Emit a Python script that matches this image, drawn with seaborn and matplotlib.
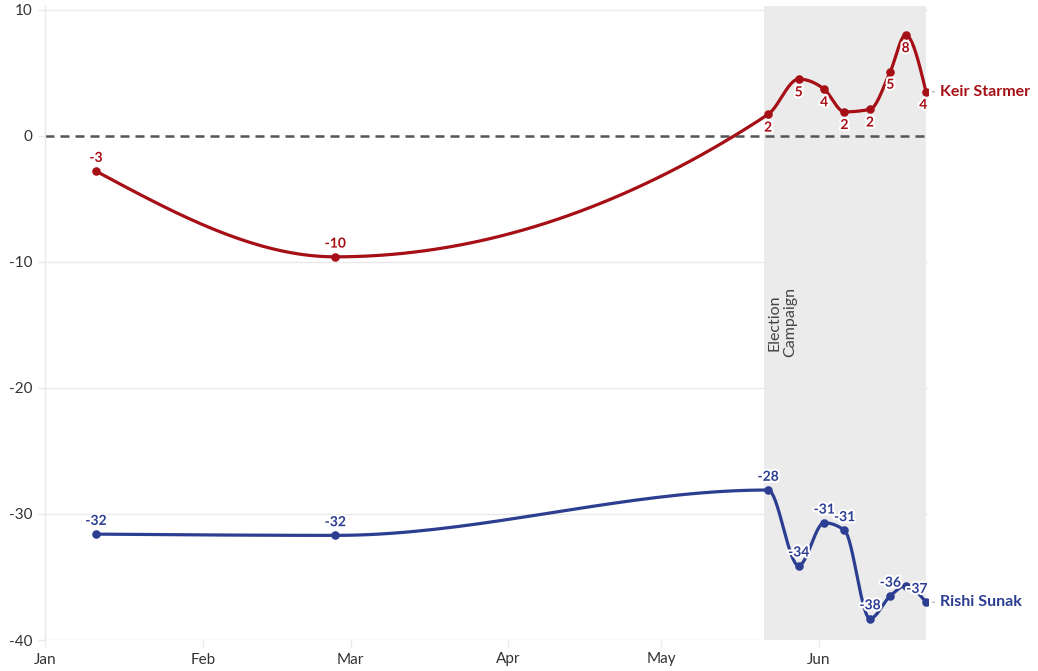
"""Net favourability of Keir Starmer and Rishi Sunak, Jan - Jun 2024."""

import matplotlib
matplotlib.use("Agg")

import matplotlib.dates as mdates
import matplotlib.patheffects as pe
import matplotlib.pyplot as plt
import numpy as np
import pandas as pd
import seaborn as sns


POLL_DATES = [
    "2024-01-11", "2024-02-27", "2024-05-22", "2024-05-28", "2024-06-02",
    "2024-06-06", "2024-06-11", "2024-06-15", "2024-06-18", "2024-06-22",
]
STARMER = [-2.8, -9.6, 1.7, 4.5, 3.7, 1.9, 2.1, 5.1, 8.0, 3.5]
SUNAK = [-31.6, -31.7, -28.1, -34.1, -30.7, -31.3, -38.3, -36.5, -35.7, -37.0]

CAMPAIGN_START = "2024-05-21 06:00"
CAMPAIGN_LABEL = "Election\nCampaign"
MONTHS = ["Jan", "Feb", "Mar", "Apr", "May", "Jun"]
Y_TICKS = [10, 0, -10, -20, -30, -40]

RED = "#a50f15"
BLUE = "#2c3e91"
GRID = "#e9e9e9"
TEXT = "#333333"


def monotone_curve(x: np.ndarray, y: np.ndarray, n: int = 40):
    """Monotone cubic (same idea as d3.curveMonotoneX)."""
    h = np.diff(x)
    s = np.diff(y) / h
    t = np.zeros_like(y)
    for i in range(1, len(x) - 1):
        s0, s1 = s[i - 1], s[i]
        p = (s0 * h[i] + s1 * h[i - 1]) / (h[i - 1] + h[i])
        t[i] = (np.sign(s0) + np.sign(s1)) * min(abs(s0), abs(s1), 0.5 * abs(p))
    t[0] = (3 * s[0] - t[1]) / 2
    t[-1] = (3 * s[-1] - t[-2]) / 2
    xs, ys = [], []
    for i in range(len(x) - 1):
        u = np.linspace(0, 1, n)
        h00 = 2 * u**3 - 3 * u**2 + 1
        h10 = u**3 - 2 * u**2 + u
        h01 = -2 * u**3 + 3 * u**2
        h11 = u**3 - u**2
        xs.append(x[i] + u * h[i])
        ys.append(h00 * y[i] + h10 * h[i] * t[i] + h01 * y[i + 1] + h11 * h[i] * t[i + 1])
    return np.concatenate(xs), np.concatenate(ys)


def label(v: float) -> str:
    return str(int(np.floor(v + 0.5)))


def draw_series(ax, dates, values, name, color, campaign_start, below_in_campaign):
    num = mdates.date2num(dates)
    vals = np.asarray(values, dtype=float)
    cx, cy = monotone_curve(num, vals)
    curve = pd.DataFrame({"date": mdates.num2date(cx), "value": cy})
    pts = pd.DataFrame({"date": dates, "value": vals})

    sns.lineplot(data=curve, x="date", y="value", color=color, lw=2.3,
                 ax=ax, zorder=3, estimator=None, sort=False)
    sns.scatterplot(data=pts, x="date", y="value", color=color, s=38,
                    edgecolor=color, linewidth=0, ax=ax, zorder=4)

    halo = [pe.withStroke(linewidth=3, foreground="white")]
    prev_text, prev_x = None, None
    for i, (d, v) in enumerate(zip(num, vals)):
        txt = label(v)
        if prev_text == txt and d - prev_x < 4:
            prev_text, prev_x = txt, d
            continue
        prev_text, prev_x = txt, d
        below = below_in_campaign and d >= campaign_start
        dy = -9.5 if below else 9.5
        last = i == len(num) - 1
        ax.annotate(txt, (d, v), xytext=(1 if last else 0, dy),
                    textcoords="offset points",
                    ha="right" if last else "center", va="center",
                    fontsize=10, fontweight="bold", color=color,
                    path_effects=halo, zorder=5)

    ax.annotate(name, (num[-1], vals[-1]), xytext=(10, 0),
                textcoords="offset points", ha="left", va="center",
                fontsize=11.5, fontweight="bold", color=color,
                annotation_clip=False,
                arrowprops=dict(arrowstyle="-", color="#bbbbbb", lw=1,
                                shrinkA=1.5, shrinkB=4.5))


def main() -> None:
    sns.set_theme(style="white")
    plt.rcParams["font.family"] = ["Lato", "DejaVu Sans"]
    plt.rcParams["axes.unicode_minus"] = False

    fig = plt.figure(figsize=(10.38, 6.71), dpi=100)
    ax = fig.add_axes([45 / 1038, 1 - 640 / 671, (928 - 45) / 1038, (640 - 6) / 671])

    dates = pd.to_datetime(POLL_DATES)
    start = mdates.date2num(pd.Timestamp(CAMPAIGN_START))
    end = mdates.date2num(dates[-1])

    ax.axvspan(start, end, color="#ebebeb", lw=0, zorder=0)
    for yv in Y_TICKS:
        if yv != 0:
            ax.axhline(yv, color=GRID, lw=1, zorder=1)
    ax.axhline(0, color="#555555", lw=1.8, dashes=(3.6, 2.4), zorder=2)

    ax.text(start + 3.5, -14.8, CAMPAIGN_LABEL, rotation=90, ha="center",
            va="center", multialignment="center", fontsize=11.5, color="#444444",
            zorder=2)

    draw_series(ax, dates, STARMER, "Keir Starmer", RED, start, True)
    draw_series(ax, dates, SUNAK, "Rishi Sunak", BLUE, start, False)

    ax.set_ylim(-40, 10.3)
    ax.set_xlim(mdates.date2num(pd.Timestamp("2024-01-01")), end + 0.4)
    ax.set_yticks(Y_TICKS)
    ax.set_yticklabels([str(v) for v in Y_TICKS])
    month_ticks = pd.date_range("2024-01-01", periods=len(MONTHS), freq="MS")
    ax.set_xticks(month_ticks)
    ax.set_xticklabels(MONTHS)
    ax.tick_params(axis="both", length=5, width=1, color=GRID, labelsize=11,
                   labelcolor=TEXT, pad=4, left=True, bottom=True)
    ax.set_xlabel("")
    ax.set_ylabel("")
    for side in ["top", "right", "bottom"]:
        ax.spines[side].set_visible(False)
    ax.spines["left"].set_color(GRID)
    ax.spines["left"].set_linewidth(1)

    fig.savefig("out.png", dpi=100)
    plt.close(fig)


if __name__ == "__main__":
    main()
